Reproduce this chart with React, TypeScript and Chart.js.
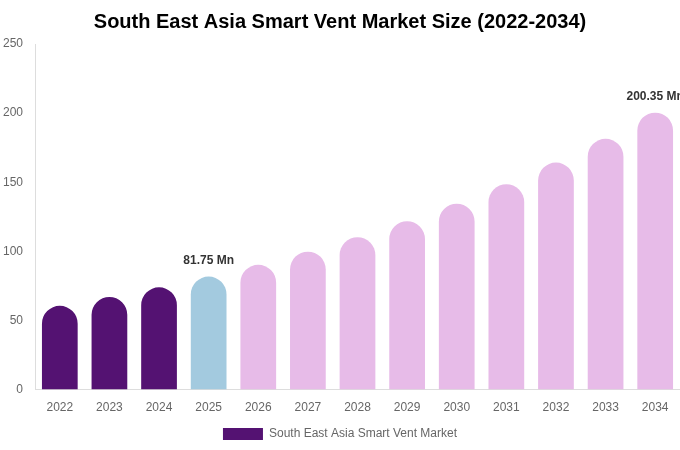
import { Chart, registerables } from "chart.js"
import { useEffect, useRef } from "react"

Chart.register(...registerables)

const years = ["2022", "2023", "2024", "2025", "2026", "2027", "2028", "2029", "2030", "2031", "2032", "2033", "2034"]
const marketSize = [60.6, 67.0, 74.0, 81.75, 90.3, 99.8, 110.2, 121.8, 134.5, 148.6, 164.2, 181.4, 200.35]
const barColors = [
	"#541272", "#541272", "#541272", "#a3cadf",
	"#e7bbe8", "#e7bbe8", "#e7bbe8", "#e7bbe8", "#e7bbe8",
	"#e7bbe8", "#e7bbe8", "#e7bbe8", "#e7bbe8",
]
const labelledYears = ["2025", "2034"]
const yTicks = [0, 50, 100, 150, 200, 250]

const FONT = "'Liberation Sans', Arial, sans-serif"

const valueLabels = {
	id: "valueLabels",
	afterDatasetsDraw(chart: Chart) {
		const ctx = chart.ctx
		const meta = chart.getDatasetMeta(0)
		ctx.save()
		ctx.font = `bold 12px ${FONT}`
		ctx.fillStyle = "#333333"
		ctx.textAlign = "center"
		ctx.textBaseline = "bottom"
		years.forEach((y, i) => {
			if (!labelledYears.includes(y)) return
			const bar = meta.data[i]
			ctx.fillText(`${marketSize[i]} Mn`, bar.x, bar.y - 10)
		})
		ctx.restore()
	},
}

export default function App() {
	const chartRef = useRef<HTMLCanvasElement>(null)
	const chartInstance = useRef<Chart | null>(null)

	useEffect(() => {
		document.body.style.margin = "0"
		if (chartRef.current) {
			if (chartInstance.current) {
				chartInstance.current.destroy()
			}
			const ctx = chartRef.current.getContext("2d")
			if (ctx) {
				chartInstance.current = new Chart(ctx, {
					type: "bar",
					data: {
						labels: years,
						datasets: [
							{
								label: "South East Asia Smart Vent Market",
								data: marketSize,
								backgroundColor: barColors,
								borderRadius: { topLeft: 100, topRight: 100, bottomLeft: 0, bottomRight: 0 },
								borderSkipped: false,
								barPercentage: 0.9,
								categoryPercentage: 0.8,
							},
						],
					},
					options: {
						responsive: false,
						animation: false,
						layout: { padding: { left: 0, right: 0, top: 0, bottom: 0 } },
						plugins: {
							title: {
								display: true,
								text: "South East Asia Smart Vent Market Size (2022-2034)",
								color: "#000000",
								font: { family: FONT, size: 20, weight: "bold" },
								padding: { top: 10, bottom: 10 },
							},
							legend: {
								position: "bottom",
								labels: {
									color: "#666666",
									font: { family: FONT, size: 12 },
									boxWidth: 40,
									boxHeight: 12,
									generateLabels: () => [
										{
											text: "South East Asia Smart Vent Market",
											fillStyle: barColors[0],
											strokeStyle: barColors[0],
											lineWidth: 0,
											fontColor: "#666666",
											datasetIndex: 0,
										},
									],
								},
							},
							tooltip: { enabled: false },
						},
						scales: {
							x: {
								grid: { display: false },
								border: { display: true, color: "#dddddd" },
								ticks: { color: "#666666", font: { family: FONT, size: 12 } },
							},
							y: {
								min: 0,
								max: yTicks[yTicks.length - 1],
								grid: { display: false, drawTicks: false },
								border: { display: true, color: "#dddddd" },
								afterFit: (scale) => {
									scale.width = 35
								},
								ticks: {
									stepSize: yTicks[1] - yTicks[0],
									color: "#666666",
									padding: 12,
									font: { family: FONT, size: 12 },
								},
							},
						},
					},
					plugins: [valueLabels],
				})
			}
		}
		return () => {
			if (chartInstance.current) {
				chartInstance.current.destroy()
				chartInstance.current = null
			}
		}
	}, [])

	return (
		<div style={{ width: 680, height: 450 }}>
			<canvas ref={chartRef} width={680} height={450}></canvas>
		</div>
	)
}
